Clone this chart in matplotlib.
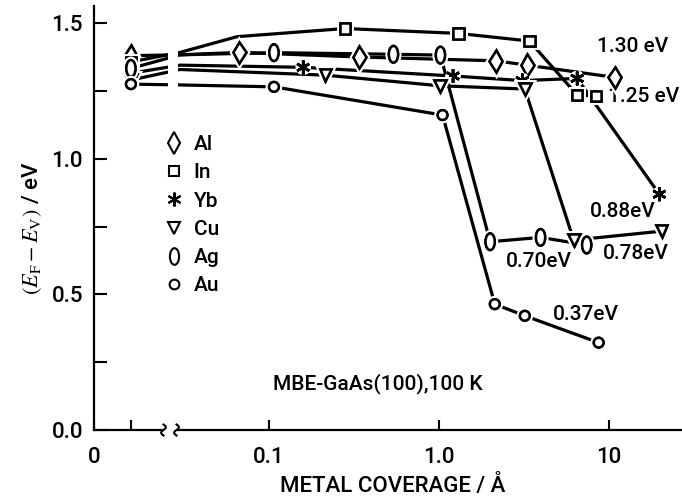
import numpy as np
import matplotlib
matplotlib.use("Agg")
import matplotlib.pyplot as plt
from matplotlib.path import Path
from matplotlib.lines import Line2D
from matplotlib.ticker import FixedLocator, NullLocator
import matplotlib.patheffects as pe

plt.rcParams["font.family"] = ["Roboto", "DejaVu Sans"]
plt.rcParams["font.weight"] = "medium"
plt.rcParams["axes.labelweight"] = "medium"
plt.rcParams["mathtext.fontset"] = "stix"

# clean surface (0 coverage) and where each line enters the log axis
metals = ["Al", "In", "Yb", "Cu", "Ag", "Au"]
clean_ev = [1.380, 1.357, 1.315, 1.290, 1.333, 1.275]
break_ev = [1.383, 1.392, 1.345, 1.329, 1.383, 1.272]
break_x = 0.03

# metal coverage (A) and E_F - E_V (eV)
al_x = [0.067, 0.34, 2.16, 3.3, 10.8]
al_y = [1.392, 1.375, 1.361, 1.345, 1.300]
in_x = [0.28, 1.30, 3.4, 6.5, 8.4]
in_y = [1.480, 1.462, 1.434, 1.235, 1.231]
yb_x = [0.159, 1.21, 3.09, 6.5, 19.8]
yb_y = [1.337, 1.305, 1.288, 1.296, 0.869]
cu_x = [0.215, 1.01, 3.2, 6.2, 20.4]
cu_y = [1.308, 1.269, 1.257, 0.700, 0.733]
ag_x = [0.107, 0.54, 1.02, 2.0, 3.96, 7.4]
ag_y = [1.391, 1.385, 1.382, 0.694, 0.710, 0.682]
au_x = [0.107, 1.05, 2.13, 3.2, 8.7]
au_y = [1.265, 1.161, 0.464, 0.421, 0.322]

# extra point on the hand drawn In curve (no marker)
in_arc_x = [0.065]
in_arc_y = [1.450]

# final-value labels
lab_text = ["1.30 eV", "1.25 eV", "0.88eV", "0.70eV", "0.78eV", "0.37eV"]
lab_x = [8.5, 9.9, 7.7, 2.48, 9.2, 4.7]
lab_y = [1.412, 1.231, 0.805, 0.620, 0.651, 0.424]

# broken x axis: 0 sits in its own column left of the log part
U0 = -1.812
XMIN, XMAX = 0.00935, 26.9


def fwd(x):
    x = np.asarray(x, dtype=float)
    pos = x > 0
    return np.where(pos, np.log10(np.where(pos, x, 1.0)), U0)


def inv(u):
    return 10.0 ** np.asarray(u, dtype=float)


circ = Path.unit_circle()
ag_marker = Path(circ.vertices * [0.55, 1.0], circ.codes)

styles = {
    "Al": dict(marker="d", ms=11),
    "In": dict(marker="s", ms=7.5),
    "Yb": dict(marker=(6, 2, 0), ms=10),
    "Cu": dict(marker="v", ms=8.5),
    "Ag": dict(marker=ag_marker, ms=12),
    "Au": dict(marker="o", ms=7),
}
series = {
    "Al": (al_x, al_y, [], []),
    "In": (in_x, in_y, in_arc_x, in_arc_y),
    "Yb": (yb_x, yb_y, [], []),
    "Cu": (cu_x, cu_y, [], []),
    "Ag": (ag_x, ag_y, [], []),
    "Au": (au_x, au_y, [], []),
}

fig = plt.figure(figsize=(6.82, 4.99), dpi=100)
ax = fig.add_axes([94 / 682, 1 - 430 / 499, 588 / 682, 424 / 499])
ax.set_xscale("function", functions=(fwd, inv))

halo = [pe.withStroke(linewidth=5, foreground="white"), pe.Normal()]
for i, m in enumerate(metals):
    mx, my, ex, ey = series[m]
    lx = [0, break_x] + ex + mx
    ly = [clean_ev[i], break_ev[i]] + ey + my
    ax.plot(lx, ly, color="black", lw=2.3, zorder=2, solid_capstyle="round")
    px = [0] + mx
    py = [clean_ev[i]] + my
    ax.plot(px, py, ls="none", color="black", mfc="white", mew=1.8,
            zorder=4, path_effects=halo, **styles[m])

# white gap where the lines cross the axis break
ax.axvspan(0.0255, 0.0292, ymin=1.2 / 1.563, ymax=1.46 / 1.563,
           color="white", zorder=3, lw=0)

ax.set_xlim(XMIN, XMAX)
ax.set_ylim(0, 1.563)

ax.xaxis.set_major_locator(FixedLocator([XMIN, 0, 0.1, 1, 10]))
ax.set_xticklabels(["0", "", "0.1", "1.0", "10"])
ax.xaxis.set_minor_locator(NullLocator())
ax.set_yticks([0, 0.5, 1.0, 1.5])
ax.set_yticklabels(["0.0", "0.5", "1.0", "1.5"])
ax.set_yticks([0.25, 0.75, 1.25], minor=True)
ax.tick_params(axis="both", which="both", direction="in", width=1.5,
               labelsize=16)
ax.tick_params(axis="y", which="both", length=9, pad=8)
ax.tick_params(axis="x", length=7, pad=12)

for s in ["top", "right"]:
    ax.spines[s].set_visible(False)
for s in ["left", "bottom"]:
    ax.spines[s].set_linewidth(1.6)

# break marks on the x axis
x0, x1 = (165 - 94) / 588, (175 - 94) / 588
ax.plot([x0, x1], [0, 0], color="white", lw=3, transform=ax.transAxes,
        clip_on=False, zorder=5)
t = np.linspace(-1, 1, 30)
for xc in [(163.5 - 94) / 588, (176.5 - 94) / 588]:
    ax.plot(xc + 0.004 * np.sin(np.pi * t), 0.013 * t, color="black", lw=1.5,
            transform=ax.transAxes, clip_on=False, zorder=6)

ax.set_ylabel(r"$(E_{\rm F}-E_{\rm V})$ / eV", fontsize=16)
ax.yaxis.set_label_coords(-0.085, 0.476)
ax.set_xlabel("METAL COVERAGE / Å", fontsize=16)
ax.xaxis.set_label_coords(0.508, -0.105)

for txt, x, y in zip(lab_text, lab_x, lab_y):
    ax.text(x, y, txt, fontsize=15, ha="left", va="center")
ax.text(0.1056, 0.173, "MBE-GaAs(100),100 K", fontsize=15, ha="left",
        va="center")

handles = [Line2D([], [], ls="none", color="black", mfc="white", mew=1.5,
                  **styles[m]) for m in metals]
ax.legend(handles, metals, loc="upper left", bbox_to_anchor=(0.118, 0.695),
          frameon=False, fontsize=15, handlelength=1.0, handletextpad=0.45,
          borderpad=0, borderaxespad=0, labelspacing=0.44)

fig.savefig("out.png", dpi=100)
